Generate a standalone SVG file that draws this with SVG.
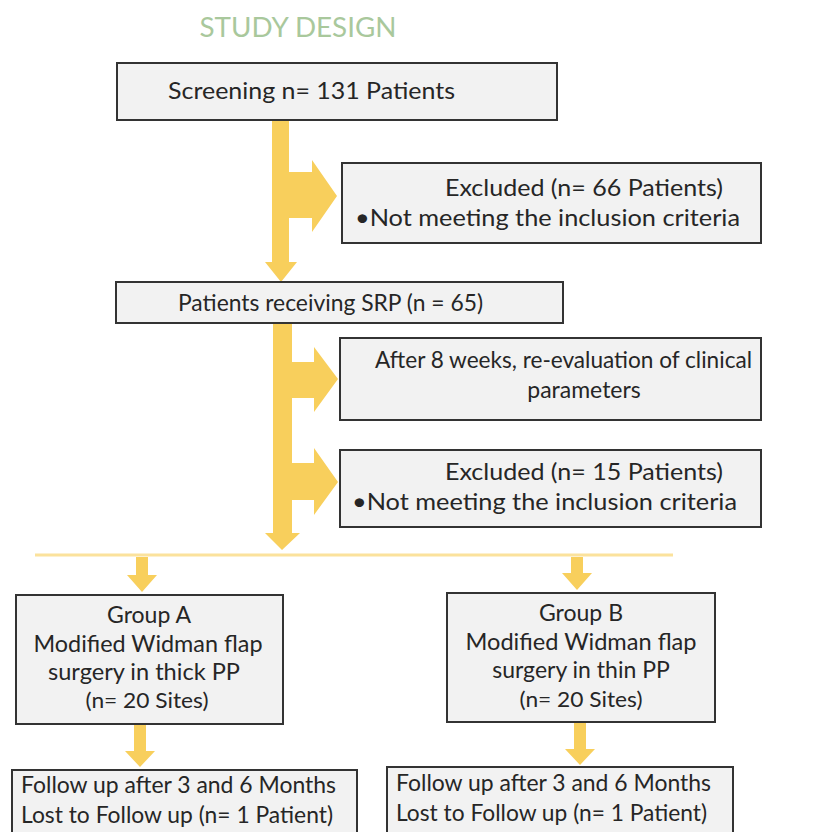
<svg xmlns="http://www.w3.org/2000/svg" width="823" height="832" viewBox="0 0 823 832">
<style>
.box{fill:#f2f2f2;stroke:#333;stroke-width:2}
.t{font-family:Lato,"Liberation Sans",sans-serif;fill:#262626;font-size:23px}
.c{text-anchor:middle}
.s{font-size:21px}
.arr{fill:#f8cf5c}
.title{font-family:Lato,"Liberation Sans",sans-serif;fill:#a9c89c;font-size:26px;text-anchor:middle}
</style>
<rect width="823" height="832" fill="#fff"/>
<text class="title" x="298" y="37" textLength="197" lengthAdjust="spacingAndGlyphs">STUDY DESIGN</text>
<g id="connectors">
  <path class="arr" d="M272,120 H289 V172 H312 V160 L337,196 L312,232 V218 H289 V262 H297 L281,282 L265,262 H272 Z"/>
  <path class="arr" d="M273,323 H292 V362 H314 V347 L338,379 L314,412 V398 H292 V463 H314 V448 L338,482 L314,515 V500 H292 V533 H300 L282,550 L265,533 H273 Z"/>
  <line x1="35" y1="555" x2="673" y2="555" stroke="#fbe29c" stroke-width="3"/>
  <path class="arr" d="M136,557 H148 V575 H157 L142,592 L127,575 H136 Z"/>
  <path class="arr" d="M571,557 H583 V573 H592 L577,590 L562,573 H571 Z"/>
  <path class="arr" d="M134,724 H146 V751 H155 L140,767 L125,751 H134 Z"/>
  <path class="arr" d="M574,722 H586 V749 H595 L580,765 L565,749 H574 Z"/>
</g>
<g id="screening">
  <rect class="box" x="117" y="63" width="440" height="57"/>
  <text class="t" x="168" y="99" textLength="287" lengthAdjust="spacingAndGlyphs">Screening n= 131 Patients</text>
</g>
<g id="excluded1">
  <rect class="box" x="342" y="163" width="419" height="80"/>
  <text class="t" x="445" y="196" textLength="278" lengthAdjust="spacingAndGlyphs">Excluded (n= 66 Patients)</text>
  <text class="t" x="355" y="226" textLength="385" lengthAdjust="spacingAndGlyphs">•Not meeting the inclusion  criteria</text>
</g>
<g id="srp">
  <rect class="box" x="116" y="282" width="447" height="41"/>
  <text class="t" x="178" y="311" textLength="305" lengthAdjust="spacingAndGlyphs">Patients receiving SRP (n = 65)</text>
</g>
<g id="reevaluation">
  <rect class="box" x="340" y="338" width="421" height="82"/>
  <text class="t" x="375" y="368" textLength="377" lengthAdjust="spacingAndGlyphs">After 8 weeks, re-evaluation of clinical</text>
  <text class="t c" x="584" y="398">parameters</text>
</g>
<g id="excluded2">
  <rect class="box" x="340" y="450" width="421" height="77"/>
  <text class="t" x="445" y="480" textLength="278" lengthAdjust="spacingAndGlyphs">Excluded (n= 15 Patients)</text>
  <text class="t" x="352" y="510" textLength="385" lengthAdjust="spacingAndGlyphs">•Not meeting the inclusion  criteria</text>
</g>
<g id="groupA">
  <rect class="box" x="16" y="595" width="267" height="129"/>
  <text class="t c" x="149" y="623">Group A</text>
  <text class="t c" x="148" y="652" textLength="229" lengthAdjust="spacingAndGlyphs">Modified Widman flap</text>
  <text class="t c" x="144" y="680" textLength="192" lengthAdjust="spacingAndGlyphs">surgery in thick PP</text>
  <text class="t c s" x="147" y="708" textLength="123" lengthAdjust="spacingAndGlyphs">(n= 20 Sites)</text>
</g>
<g id="groupB">
  <rect class="box" x="447" y="593" width="268" height="129"/>
  <text class="t c" x="581" y="621">Group B</text>
  <text class="t c" x="581" y="650" textLength="231" lengthAdjust="spacingAndGlyphs">Modified Widman flap</text>
  <text class="t c" x="581" y="678">surgery in thin PP</text>
  <text class="t c s" x="581" y="707" textLength="123" lengthAdjust="spacingAndGlyphs">(n= 20 Sites)</text>
</g>
<g id="followA">
  <rect class="box" x="12" y="770" width="345" height="70"/>
  <text class="t" x="21" y="793" textLength="315" lengthAdjust="spacingAndGlyphs">Follow up after 3 and 6 Months</text>
  <text class="t" x="21" y="823" textLength="312" lengthAdjust="spacingAndGlyphs">Lost to Follow up (n= 1 Patient)</text>
</g>
<g id="followB">
  <rect class="box" x="387" y="767" width="346" height="70"/>
  <text class="t" x="396" y="791" textLength="315" lengthAdjust="spacingAndGlyphs">Follow up after 3 and 6 Months</text>
  <text class="t" x="396" y="821" textLength="311" lengthAdjust="spacingAndGlyphs">Lost to Follow up (n= 1 Patient)</text>
</g>
</svg>
